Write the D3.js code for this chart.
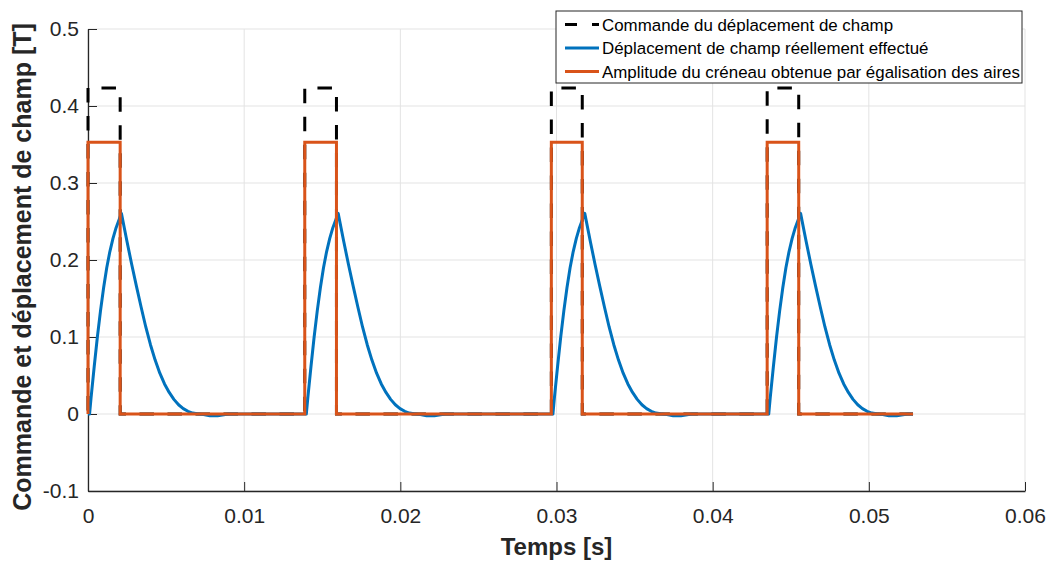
<!DOCTYPE html>
<html><head><meta charset="utf-8">
<script src="https://cdn.jsdelivr.net/npm/d3@7/dist/d3.min.js"></script>
<style>body{margin:0;background:#fff}svg{display:block}text{font-family:"Liberation Sans",Arial,Helvetica,sans-serif}</style>
</head><body><svg id="c" width="1054" height="563"></svg>
<script>
// ---- data ----
const pulseStart = [0, 0.01388, 0.02967, 0.04349];
const pulseEnd   = [0.00206, 0.01591, 0.03165, 0.04551];
const commandLevel = 0.4234;
const equalAreaLevel = 0.353;
const tFinal = 0.05283;
// measured field response of one pulse: [time after pulse start (s), field (T)]
const responseDt = [0.0001, 0.0002, 0.0004, 0.0006, 0.0008, 0.001, 0.0012, 0.0014, 0.0016, 0.0018, 0.002, 0.00214,
                    0.0025, 0.0028, 0.0031, 0.0034, 0.0037, 0.004, 0.0043, 0.0046, 0.0049, 0.0052, 0.0055, 0.0058,
                    0.0061, 0.0064, 0.0067, 0.007, 0.0074, 0.0078, 0.0083, 0.0087, 0.009];
const responseV  = [0, 0.022, 0.062, 0.1, 0.134, 0.164, 0.19, 0.211, 0.228, 0.242, 0.253, 0.2606,
                    0.2236, 0.1942, 0.166, 0.139, 0.113, 0.09, 0.07, 0.053, 0.039, 0.028, 0.019, 0.012,
                    0.007, 0.0035, 0.0012, 0.0002, -0.0008, -0.0022, -0.0022, -0.001, 0];
const xTicks = [0, 0.01, 0.02, 0.03, 0.04, 0.05, 0.06];
const xTickLabels = ["0", "0.01", "0.02", "0.03", "0.04", "0.05", "0.06"];
const yTicks = [-0.1, 0, 0.1, 0.2, 0.3, 0.4, 0.5];
const yTickLabels = ["-0.1", "0", "0.1", "0.2", "0.3", "0.4", "0.5"];
const legendLabels = ["Commande du déplacement de champ", "Déplacement de champ réellement effectué", "Amplitude du créneau obtenue par égalisation des aires"];

// ---- build series ----
function stepSeries(level){
  const pts = [[0,0]];
  pulseStart.forEach((s,i)=>{ pts.push([s,0],[s,level],[pulseEnd[i],level],[pulseEnd[i],0]); });
  pts.push([tFinal,0]);
  return pts;
}
const command = stepSeries(commandLevel);
const equalArea = stepSeries(equalAreaLevel);
const response = [[0,0]];
pulseStart.forEach(s=>{ responseDt.forEach((d,j)=>response.push([s+d, responseV[j]])); });
response.push([tFinal,0]);

// ---- scales ----
const svg = d3.select("#c");
const x = d3.scaleLinear().domain([0,0.06]).range([88,1025]);
const y = d3.scaleLinear().domain([-0.1,0.5]).range([491,29]);
const ink = "#262626";

// grid
svg.append("g").selectAll("line").data(xTicks).join("line")
  .attr("x1",d=>x(d)).attr("x2",d=>x(d)).attr("y1",y(-0.1)).attr("y2",y(0.5))
  .attr("stroke","#e3e3e3").attr("stroke-width",1);
svg.append("g").selectAll("line").data(yTicks).join("line")
  .attr("y1",d=>y(d)).attr("y2",d=>y(d)).attr("x1",x(0)).attr("x2",x(0.06))
  .attr("stroke","#e3e3e3").attr("stroke-width",1);

// axes
const xAxis = d3.axisBottom(x).tickValues(xTicks).tickFormat((d,i)=>xTickLabels[i]).tickSizeInner(-9).tickSizeOuter(0).tickPadding(17);
const gx = svg.append("g").attr("transform",`translate(0,${y(-0.1)})`).call(xAxis);
const yAxis = d3.axisLeft(y).tickValues(yTicks).tickFormat((d,i)=>yTickLabels[i]).tickSizeInner(-9).tickSizeOuter(0).tickPadding(9);
const gy = svg.append("g").attr("transform",`translate(${x(0)},0)`).call(yAxis);
[gx,gy].forEach(g=>{
  g.select(".domain").attr("stroke",ink).attr("stroke-width",1.3);
  g.selectAll(".tick line").attr("stroke",ink).attr("stroke-width",1);
  g.selectAll(".tick text").attr("fill",ink).attr("font-size",21).attr("font-family","'Liberation Sans',Arial,sans-serif");
});

// lines
const line = d3.line().x(d=>x(d[0])).y(d=>y(d[1]));
svg.append("path").datum(command).attr("d",line).attr("fill","none").attr("stroke","#000")
  .attr("stroke-width",3).attr("stroke-dasharray","14.5,13.5").attr("stroke-dashoffset",-3.5);
svg.append("path").datum(response).attr("d",line).attr("fill","none").attr("stroke","#0072BD")
  .attr("stroke-width",3).attr("stroke-linejoin","round");
svg.append("path").datum(equalArea).attr("d",line).attr("fill","none").attr("stroke","#D95319")
  .attr("stroke-width",3);

// axis labels
svg.append("text").attr("x",(x(0)+x(0.06))/2).attr("y",555).attr("text-anchor","middle")
  .attr("font-weight","bold").attr("font-size",24).attr("fill",ink).text("Temps [s]");
svg.append("text").attr("transform",`translate(31,${(y(-0.1)+y(0.5))/2+7}) rotate(-90)`).attr("text-anchor","middle")
  .attr("font-weight","bold").attr("font-size",25).attr("fill",ink).text("Commande et déplacement de champ [T]");

// legend
const lg = svg.append("g");
lg.append("rect").attr("x",556).attr("y",11).attr("width",466).attr("height",72)
  .attr("fill","#fff").attr("stroke","#262626").attr("stroke-width",1);
const styles = [{c:"#000",dash:"12,15"},{c:"#0072BD",dash:null},{c:"#D95319",dash:null}];
legendLabels.forEach((t,i)=>{
  const yy = 24.5 + i*23.5;
  lg.append("line").attr("x1",565).attr("x2",599).attr("y1",yy).attr("y2",yy)
    .attr("stroke",styles[i].c).attr("stroke-width",3).attr("stroke-dasharray",styles[i].dash);
  lg.append("text").attr("x",602).attr("y",yy+6).attr("font-size",16.9).attr("fill","#000").text(t);
});
</script></body></html>
